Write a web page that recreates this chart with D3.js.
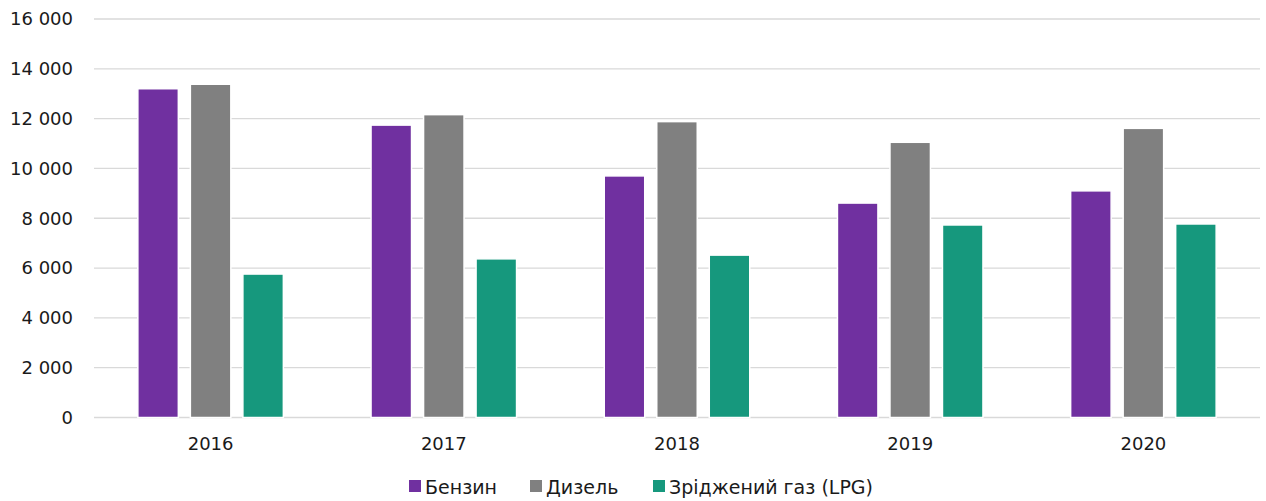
<!DOCTYPE html>
<html>
<head>
<meta charset="utf-8">
<script src="https://cdn.jsdelivr.net/npm/d3@7"></script>
<style>
  html, body { margin: 0; padding: 0; background: #fff; }
  svg { display: block; font-family: "DejaVu Sans", sans-serif; }
</style>
</head>
<body>
<svg id="chart" width="1266" height="501"></svg>
<script>
// Fuel consumption by year and fuel type
const years = ["2016", "2017", "2018", "2019", "2020"];
const seriesNames = ["Бензин", "Дизель", "Зріджений газ (LPG)"];
const petrol = [13200, 11740, 9700, 8610, 9100];
const diesel = [13380, 12160, 11880, 11050, 11610];
const lpg = [5760, 6370, 6520, 7730, 7770];
const yTicks = [0, 2000, 4000, 6000, 8000, 10000, 12000, 14000, 16000];
const colors = ["#7030A0", "#808080", "#16987D"];

const seriesValues = [petrol, diesel, lpg];
const svg = d3.select("#chart");

const margin = { left: 94, right: 6, top: 19, bottom: 83.5 };
const W = 1266, H = 501;
const textColor = "#1a1a1a";

const x = d3.scaleBand().domain(years).range([margin.left, W - margin.right]);
const xInner = d3.scaleBand().domain(seriesNames)
  .range([0, x.bandwidth()]).paddingInner(0.229).paddingOuter(0.835);
const y = d3.scaleLinear().domain([0, 16000]).range([H - margin.bottom, margin.top]);

// horizontal gridlines
svg.append("g")
  .selectAll("line")
  .data(yTicks)
  .join("line")
  .attr("x1", margin.left)
  .attr("x2", W - margin.right)
  .attr("y1", d => y(d))
  .attr("y2", d => y(d))
  .attr("stroke", "#d9d9d9")
  .attr("stroke-width", 1.3);

// y axis labels
const fmt = d => d3.format(",")(d).replace(/,/g, " ");
const yAxis = d3.axisLeft(y).tickValues(yTicks).tickFormat(fmt).tickSize(0).tickPadding(21);
const yg = svg.append("g").attr("transform", `translate(${margin.left},0)`).call(yAxis);
yg.select(".domain").remove();
yg.selectAll("text")
  .attr("font-size", 18)
  .attr("fill", textColor)
  .attr("font-family", "DejaVu Sans, sans-serif");

// bars
const groups = svg.append("g")
  .selectAll("g")
  .data(years)
  .join("g")
  .attr("transform", d => `translate(${x(d)},0)`);

groups.selectAll("rect")
  .data((yr, i) => seriesNames.map((s, k) => ({ s, v: seriesValues[k][i], c: colors[k] })))
  .join("rect")
  .attr("x", d => xInner(d.s))
  .attr("width", xInner.bandwidth())
  .attr("y", d => y(d.v))
  .attr("height", d => y(0) - y(d.v))
  .attr("fill", d => d.c)
  .attr("stroke", "#ffffff")
  .attr("stroke-width", 1.5);

// x axis labels
const xAxis = d3.axisBottom(x).tickSize(0).tickPadding(20);
const xg = svg.append("g").attr("transform", `translate(0,${y(0)})`).call(xAxis);
xg.select(".domain").remove();
xg.selectAll("text")
  .attr("font-size", 18)
  .attr("fill", textColor)
  .attr("font-family", "DejaVu Sans, sans-serif");

// legend
const legendX = [409, 530, 653];
const legend = svg.append("g")
  .selectAll("g")
  .data(seriesNames)
  .join("g")
  .attr("transform", (d, i) => `translate(${legendX[i]},480)`);
legend.append("rect")
  .attr("width", 12).attr("height", 12)
  .attr("fill", (d, i) => colors[i]);
legend.append("text")
  .attr("x", 16).attr("y", 14)
  .attr("font-size", 19)
  .attr("fill", textColor)
  .text(d => d);
</script>
</body>
</html>
